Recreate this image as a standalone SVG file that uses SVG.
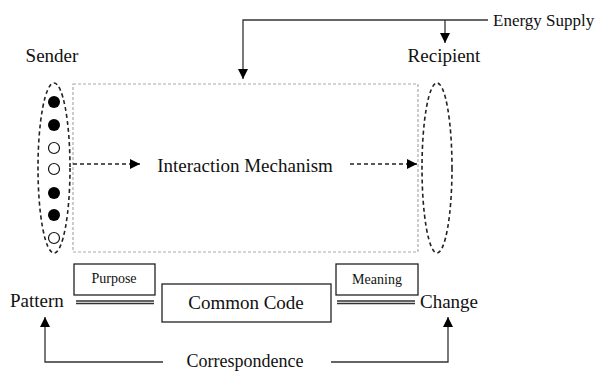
<svg xmlns="http://www.w3.org/2000/svg" width="600" height="371" viewBox="0 0 600 371">
  <style>
    text { font-family: 'Liberation Serif', 'DejaVu Serif', serif; fill: #111; }
    .lbl { font-size: 19px; }
    .small { font-size: 14px; }
    .line { fill: none; stroke: #333; stroke-width: 1.3; }
    .box { fill: #fff; stroke: #222; stroke-width: 1.3; }
    .frame { fill: none; stroke: #aaa; stroke-width: 1.2; stroke-dasharray: 3 2; }
    .group { fill: none; stroke: #222; stroke-width: 1.6; stroke-dasharray: 4 3; }
    .dash { fill: none; stroke: #222; stroke-width: 1.3; stroke-dasharray: 4 3; }
    .full { fill: #000; }
    .empty { fill: #fff; stroke: #111; stroke-width: 1.2; }
  </style>
  <defs>
    <marker id="arrow" viewBox="0 0 10 10" refX="10" refY="5" markerWidth="10" markerHeight="10" markerUnits="userSpaceOnUse" orient="auto">
      <path d="M0,0 L10,5 L0,10 Z" fill="#000"/>
    </marker>
  </defs>

  <!-- interaction frame -->
  <g id="mechanism">
    <rect class="frame" x="73" y="84" width="345" height="168"/>
    <text class="lbl" x="245" y="172" text-anchor="middle" font-family="Liberation Serif, serif">Interaction Mechanism</text>
  </g>

  <!-- sender with its pattern of states -->
  <g id="sender">
    <text class="lbl" x="52" y="62" text-anchor="middle" font-family="Liberation Serif, serif">Sender</text>
    <ellipse class="group" cx="54" cy="168" rx="16" ry="85"/>
    <circle class="full" cx="54" cy="102" r="6"/>
    <circle class="full" cx="54" cy="125" r="6"/>
    <circle class="empty" cx="54" cy="148" r="5.5"/>
    <circle class="empty" cx="54" cy="169" r="5.5"/>
    <circle class="full" cx="54" cy="193" r="6"/>
    <circle class="full" cx="54" cy="215" r="6"/>
    <circle class="empty" cx="54" cy="238" r="5.5"/>
  </g>

  <!-- recipient -->
  <g id="recipient">
    <text class="lbl" x="444" y="62" text-anchor="middle" font-family="Liberation Serif, serif">Recipient</text>
    <ellipse class="group" cx="437" cy="168" rx="15" ry="85"/>
  </g>

  <g id="energy">
    <text x="493" y="26" font-size="17" font-family="Liberation Serif, serif">Energy Supply</text>
  </g>

  <g id="pattern">
    <text class="lbl" x="10" y="307" font-family="Liberation Serif, serif">Pattern</text>
  </g>
  <g id="change">
    <text class="lbl" x="420" y="308" font-family="Liberation Serif, serif">Change</text>
  </g>

  <g id="purpose">
    <rect class="box" x="74" y="264" width="81" height="31"/>
    <text class="small" x="114" y="283" text-anchor="middle" font-family="Liberation Serif, serif">Purpose</text>
  </g>
  <g id="meaning">
    <rect class="box" x="336" y="264" width="82" height="31"/>
    <text class="small" x="377" y="284" text-anchor="middle" font-family="Liberation Serif, serif">Meaning</text>
  </g>
  <g id="code">
    <rect class="box" x="162" y="284" width="169" height="38"/>
    <text class="lbl" x="246" y="309" text-anchor="middle" font-family="Liberation Serif, serif">Common Code</text>
  </g>

  <g id="correspondence">
    <text x="245" y="367" text-anchor="middle" font-size="18" font-family="Liberation Serif, serif">Correspondence</text>
  </g>

  <!-- connectors -->
  <g id="connectors">
    <!-- energy supply feed -->
    <path class="line" d="M488,20 H243 V79" marker-end="url(#arrow)"/>
    <path class="line" d="M445,20 V43" marker-end="url(#arrow)"/>
    <!-- signal flow -->
    <path class="dash" d="M73,164 H140" marker-end="url(#arrow)"/>
    <path class="dash" d="M350,164 H417" marker-end="url(#arrow)"/>
    <!-- double rules -->
    <path class="line" d="M76,301 H154 M76,303.5 H154"/>
    <path class="line" d="M337,301 H415 M337,303.5 H415"/>
    <!-- correspondence -->
    <path class="line" d="M163,362 H45 V317" marker-end="url(#arrow)"/>
    <path class="line" d="M331,362 H448 V317" marker-end="url(#arrow)"/>
  </g>
</svg>
